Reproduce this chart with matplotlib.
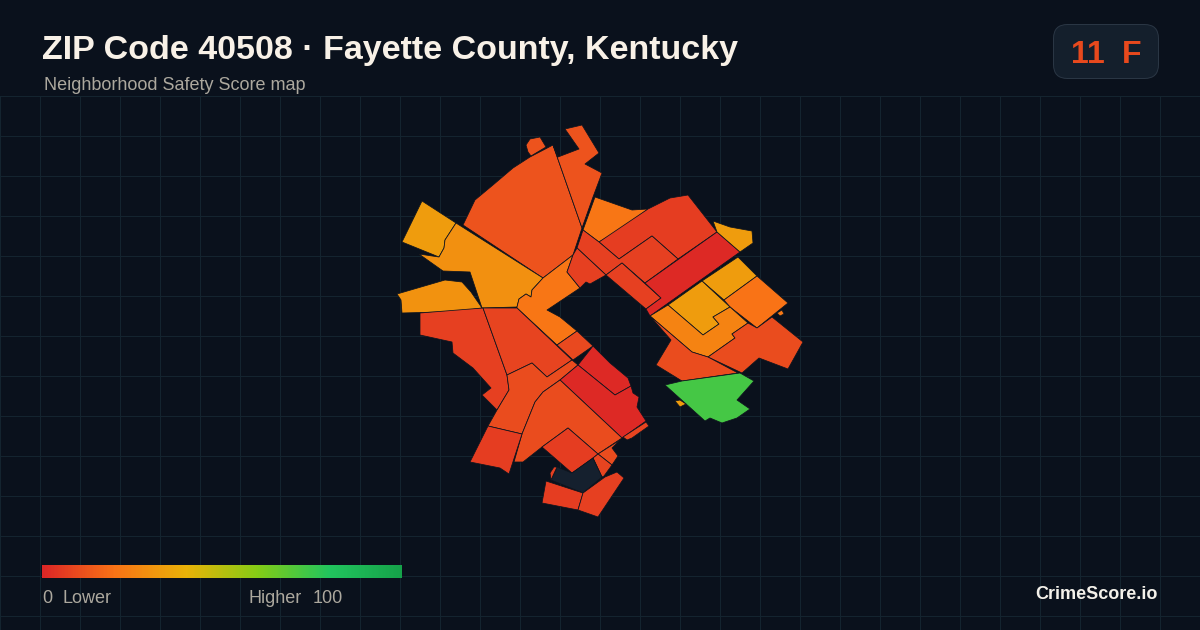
import numpy as np
import matplotlib
matplotlib.use('Agg')
import matplotlib.pyplot as plt
from matplotlib.colors import LinearSegmentedColormap
from matplotlib.patches import FancyBboxPatch, Polygon

plt.rcParams['font.family'] = ['Liberation Sans', 'DejaVu Sans']

BG = '#0a111c'
GRID = '#14242f'
EDGE = '#0e141e'
NO_DATA = '#15202e'
MUTED = '#aca89e'

title = 'ZIP Code 40508 · Fayette County, Kentucky'
subtitle = 'Neighborhood Safety Score map'
badge_score = '11'
badge_grade = 'F'
brand = 'CrimeScore.io'

scale_stops = [0, 0.2, 0.4, 0.6, 0.8, 1]
scale_colors = ['#dc2626', '#f97316', '#eab308', '#84cc16', '#22c55e', '#16a34a']

# neighborhood outlines, traced in map coordinates
north_tip = [(526, 145), (530, 139), (540, 137), (546, 147), (531, 156), (528, 152)]
north_big = [(463, 225), (475, 200), (493, 185), (513, 168), (530, 157), (553, 145),
             (582, 228), (573, 255), (543, 278)]
north_hook = [(565, 129), (582, 125), (599, 153), (585, 164), (602, 173), (593, 197),
              (582, 228), (553, 145), (558, 157), (579, 149)]
west_gold = [(422, 201), (456, 223), (445, 240), (444, 248), (439, 257), (402, 242)]
west_mid = [(456, 223), (543, 278), (532, 290), (531, 297), (526, 294), (519, 299),
            (517, 307), (482, 308), (470, 272), (443, 271), (419, 254), (439, 257),
            (444, 248), (445, 240)]
west_low = [(397, 294), (445, 280), (462, 282), (471, 292), (482, 308), (462, 311),
            (440, 312), (402, 313), (401, 300)]
center_arm = [(543, 278), (573, 255), (567, 272), (580, 288), (547, 310), (560, 317),
              (577, 331), (557, 345), (517, 308), (517, 307), (519, 299), (526, 294),
              (531, 297), (532, 290)]
ne_wedge = [(595, 197), (632, 210), (648, 209), (620, 230), (599, 242), (583, 230)]
ne_top = [(599, 242), (648, 209), (670, 198), (688, 195), (717, 232), (678, 259),
          (652, 236), (619, 259)]
ne_link = [(583, 230), (599, 242), (619, 259), (652, 236), (678, 259), (645, 283),
           (622, 263), (606, 275), (577, 248)]
ne_foot = [(577, 248), (606, 275), (590, 284), (586, 282), (580, 288), (567, 272), (573, 255)]
ne_strip = [(606, 275), (622, 263), (661, 298), (646, 309)]
ne_band = [(717, 232), (740, 252), (650, 316), (646, 309), (661, 298), (645, 283)]
east_cap = [(713, 221), (730, 227), (752, 231), (753, 243), (740, 252), (717, 232)]
east_a = [(738, 257), (757, 276), (724, 300), (702, 281)]
east_b = [(757, 276), (788, 303), (757, 328), (730, 307), (724, 300)]
east_dot = [(777, 313), (782, 310), (784, 314), (780, 316)]
east_c = [(702, 281), (730, 307), (713, 317), (719, 324), (703, 335), (668, 305)]
east_d = [(668, 305), (703, 335), (719, 324), (713, 317), (730, 307), (748, 323),
          (732, 334), (735, 338), (708, 357), (692, 352), (650, 316)]
east_e = [(748, 323), (757, 328), (772, 317), (803, 342), (788, 369), (759, 358),
          (742, 373), (708, 357), (735, 338), (732, 334)]
east_f = [(650, 316), (692, 352), (708, 357), (738, 373), (682, 381), (656, 365), (671, 340)]
park = [(665, 385), (682, 381), (740, 373), (754, 381), (737, 400), (750, 409), (737, 418),
        (722, 423), (710, 418), (705, 421)]
park_dot = [(675, 401), (680, 400), (686, 404), (680, 407)]
sw_a = [(420, 313), (483, 308), (507, 375), (509, 390), (497, 410), (482, 395), (491, 388),
        (473, 368), (453, 353), (452, 342), (420, 335)]
sw_b = [(483, 308), (517, 308), (572, 360), (547, 377), (532, 363), (507, 375)]
sw_c = [(507, 375), (532, 363), (547, 377), (572, 360), (578, 365), (560, 380), (543, 392),
        (535, 402), (522, 434), (488, 426), (497, 410), (509, 390)]
south_neck = [(557, 345), (577, 331), (593, 346), (573, 360)]
south_red = [(593, 346), (610, 363), (628, 378), (631, 386), (615, 395), (578, 365)]
south_long = [(578, 365), (615, 395), (631, 386), (633, 393), (639, 397), (637, 407),
              (646, 421), (622, 438), (560, 380)]
south_strip = [(623, 437), (646, 422), (649, 426), (632, 438), (627, 440)]
south_wide = [(560, 380), (622, 438), (598, 454), (568, 428), (542, 447), (523, 462),
              (514, 462), (522, 434), (535, 402), (543, 392)]
south_west = [(488, 426), (522, 434), (509, 474), (500, 468), (470, 462)]
south_mid = [(542, 447), (568, 428), (598, 454), (593, 458), (572, 473)]
south_nub = [(598, 454), (620, 440), (612, 448), (618, 456), (612, 465)]
south_tab = [(593, 458), (598, 454), (612, 465), (604, 476), (602, 477)]
no_data = [(557, 467), (572, 473), (593, 458), (602, 477), (583, 493), (551, 480)]
south_sliver = [(551, 480), (550, 473), (554, 467), (557, 467)]
tail_left = [(546, 481), (583, 493), (578, 510), (542, 503)]
tail_right = [(583, 493), (605, 477), (617, 472), (624, 478), (598, 517), (578, 510)]

zones = [north_tip, north_big, north_hook, west_gold, west_mid, west_low, center_arm,
         ne_wedge, ne_top, ne_link, ne_foot, ne_strip, ne_band, east_cap,
         east_a, east_b, east_dot, east_c, east_d, east_e, east_f, park, park_dot,
         sw_a, sw_b, sw_c, south_neck, south_red, south_long, south_strip, south_wide,
         south_west, south_mid, south_nub, south_tab, no_data, south_sliver,
         tail_left, tail_right]
scores = [12, 12, 12, 33, 29, 30, 21,
          21, 6, 7, 7, 7, 1, 33,
          33, 20, 22, 33, 25, 10, 10, 73, 33,
          7, 8, 10, 9, 1, 1, 8, 10,
          6, 6, 10, 8, None, 7,
          6, 7]

cmap = LinearSegmentedColormap.from_list('safety', list(zip(scale_stops, scale_colors)))

fig = plt.figure(figsize=(12, 6.3), dpi=100, facecolor=BG)
ax = fig.add_axes([0, 0, 1, 1])
ax.axis('off')

for x in range(0, 1201, 40):
    ax.plot([x, x], [96, 630], color=GRID, lw=0.72, zorder=1)
for y in range(96, 631, 40):
    ax.plot([0, 1200], [y, y], color=GRID, lw=0.72, zorder=1)

for zone, score in zip(zones, scores):
    color = NO_DATA if score is None else cmap(score / 100)
    ax.add_patch(Polygon(zone, closed=True, facecolor=color, edgecolor=EDGE,
                         lw=0.55, joinstyle='round', zorder=3))

ax.text(42, 59, title, color='#f8f1e7', fontsize=24.45, fontweight='bold', va='baseline', zorder=5)
ax.text(44, 85, subtitle, color=MUTED, fontsize=12.95, va='center', zorder=5)

badge = FancyBboxPatch((1053.5, 24.5), 105, 54, boxstyle='round,pad=0,rounding_size=14',
                       facecolor='#141f2c', edgecolor='#2a3644', lw=0.72, zorder=4)
ax.add_patch(badge)
ax.text(1071, 63, badge_score, color='#e8491d', fontsize=23, fontweight='bold',
        va='baseline', zorder=5)
ax.text(1122, 63, badge_grade, color='#e8491d', fontsize=23, fontweight='bold',
        va='baseline', zorder=5)

ramp = np.linspace(0, 1, 360).reshape(1, -1)
ax.imshow(ramp, cmap=cmap, extent=(42, 402, 578, 565), aspect='auto', zorder=4)
ax.set_xlim(0, 1200)
ax.set_ylim(630, 0)

for x, label in [(42, '0'), (62, 'Lower'), (249, 'Higher'), (313, '100')]:
    ax.text(x, 603, label, color=MUTED, fontsize=12.95, va='baseline', zorder=5)
ax.text(1158, 599, brand, color='#f4f1ea', fontsize=13, fontweight='bold',
        ha='right', va='baseline', zorder=5)

fig.savefig('out.png', dpi=100, facecolor=BG)
